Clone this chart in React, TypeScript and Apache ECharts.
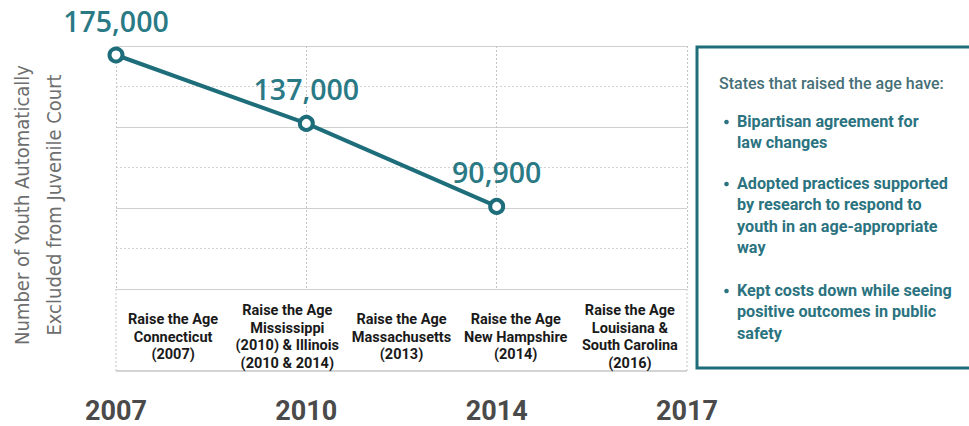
import React, { useEffect, useRef } from "react";
import * as echarts from "echarts";

const years = ["2007", "2010", "2014", "2017"];
const youthExcluded = [175000, 137000, 90900];
const reformLabels = [
  "Raise the Age\nConnecticut\n(2007)",
  "Raise the Age\nMississippi\n(2010) & Illinois\n(2010 & 2014)",
  "Raise the Age\nMassachusetts\n(2013)",
  "Raise the Age\nNew Hampshire\n(2014)",
  "Raise the Age\nLouisiana &\nSouth Carolina\n(2016)",
];
const yAxisTitle = "Number of Youth Automatically\nExcluded from Juvenile Court";
const panelTitle = "States that raised the age have:";
const panelBullets = [
  "Bipartisan agreement for\nlaw changes",
  "Adopted practices supported\nby research to respond to\nyouth in an age-appropriate\nway",
  "Kept costs down while seeing\npositive outcomes in public\nsafety",
];

const TEAL = "#1d6e7a";
const LABEL_TEAL = "#2a7a86";
const COND = '"DejaVu Sans Condensed", "DejaVu Sans", sans-serif';

function measure(text: string, font: string): number {
  const c = document.createElement("canvas").getContext("2d");
  if (!c) return 1;
  c.font = font;
  let w = 0;
  text.split("\n").forEach((l) => (w = Math.max(w, c.measureText(l).width)));
  return w || 1;
}

export default function App() {
  const ref = useRef<HTMLDivElement>(null);
  useEffect(() => {
    if (!ref.current) return;
    const chart = echarts.init(ref.current, null, { renderer: "svg" });
    const gridL = 116, gridR = 687, gridT = 46, gridB = 289, boxB = 371;
    const bulletTops = [121, 183, 290];
    const lh = 21.5;
    const titleFont = "500 17px Roboto, sans-serif";
    const bulletFont = "bold 17px Roboto, sans-serif";
    const titleScale = 225 / measure(panelTitle, titleFont);
    const bulletScale = 211 / measure("Adopted practices supported", bulletFont);
    const panelTexts: any[] = [
      {
        type: "text",
        x: 719,
        y: 83,
        scaleX: titleScale,
        style: {
          text: panelTitle,
          fill: "#466f77",
          font: titleFont,
          verticalAlign: "middle",
        },
      },
    ];
    panelBullets.forEach((b, i) => {
      panelTexts.push({
        type: "circle",
        shape: { cx: 726.5, cy: bulletTops[i] + 1, r: 2.3 },
        style: { fill: "#2b7380" },
      });
      panelTexts.push({
        type: "text",
        x: 737,
        y: bulletTops[i] - lh / 2,
        scaleX: bulletScale,
        style: {
          text: b,
          fill: "#2b7380",
          font: bulletFont,
          lineHeight: lh,
          verticalAlign: "top",
        },
      });
    });

    chart.setOption({
      animation: false,
      backgroundColor: "#ffffff",
      grid: { left: gridL, right: 969 - gridR, top: gridT, bottom: 426 - gridB },
      xAxis: [
        {
          type: "category",
          data: years,
          boundaryGap: false,
          axisLine: { show: false },
          axisTick: { show: false },
          splitLine: { show: true, lineStyle: { color: "#c4c4c4", type: [2, 2], width: 1 } },
          axisLabel: {
            interval: 0,
            margin: 122,
            verticalAlign: "middle",
            fontFamily: "Roboto, sans-serif",
            fontWeight: "bold",
            fontSize: 27,
            lineHeight: 24,
            color: "#4a4a4a",
          },
        },
        {
          type: "category",
          data: reformLabels,
          boundaryGap: true,
          position: "bottom",
          axisLine: { show: false },
          axisTick: { show: false },
          splitLine: { show: false },
          axisLabel: {
            interval: 0,
            margin: 48,
            verticalAlign: "middle",
            fontFamily: "Roboto, sans-serif",
            fontWeight: "bold",
            fontSize: 14.5,
            lineHeight: 17.5,
            color: "#1a1a1a",
          },
        },
      ],
      yAxis: {
        type: "value",
        min: 45000,
        max: 180000,
        interval: 45000,
        axisLine: { show: false },
        axisTick: { show: false },
        axisLabel: { show: false },
        splitLine: { show: true, lineStyle: { color: "#cfcfcf", width: 1.2 } },
        minorTick: { show: false, splitNumber: 2 },
        minorSplitLine: { show: true, lineStyle: { color: "#d2d2d2", type: [2, 2], width: 1 } },
      },
      series: [
        {
          type: "line",
          data: youthExcluded,
          xAxisIndex: 0,
          symbol: "circle",
          symbolSize: 13,
          lineStyle: { color: TEAL, width: 4 },
          itemStyle: { color: "#ffffff", borderColor: TEAL, borderWidth: 4 },
          label: {
            show: true,
            position: "top",
            distance: 11,
            formatter: (p: any) => Number(p.value).toLocaleString("en-US"),
            fontFamily: '"Open Sans", sans-serif',
            fontWeight: 600,
            fontSize: 28.5,
            color: LABEL_TEAL,
          },
          z: 5,
        },
      ],
      graphic: [
        {
          type: "line",
          shape: { x1: gridL, y1: gridB, x2: gridL, y2: boxB },
          style: { stroke: "#c4c4c4", lineWidth: 1, lineDash: [2, 2] },
        },
        {
          type: "line",
          shape: { x1: gridR, y1: gridB, x2: gridR, y2: boxB },
          style: { stroke: "#c4c4c4", lineWidth: 1, lineDash: [2, 2] },
        },
        {
          type: "line",
          shape: { x1: gridL, y1: boxB, x2: gridR, y2: boxB },
          style: { stroke: "#c6c6c6", lineWidth: 1.5 },
        },
        {
          type: "text",
          x: 38,
          y: 205,
          rotation: Math.PI / 2,
          style: {
            text: yAxisTitle,
            fill: "#6e6e6e",
            font: `20px ${COND}`,
            lineHeight: 32,
            align: "center",
            verticalAlign: "middle",
          },
        },
        {
          type: "rect",
          shape: { x: 697, y: 47, width: 300, height: 321 },
          style: { fill: "#ffffff", stroke: TEAL, lineWidth: 3 },
        },
        ...panelTexts,
      ],
    });
    return () => chart.dispose();
  }, []);
  return (
    <div
      ref={ref}
      style={{ position: "fixed", left: 0, top: 0, width: 969, height: 426 }}
    />
  );
}
